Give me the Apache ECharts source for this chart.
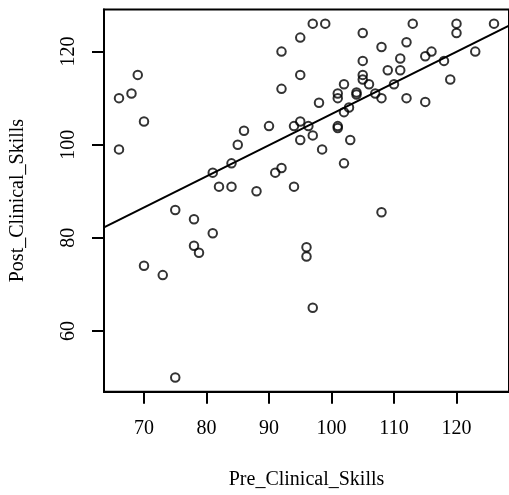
<!DOCTYPE html>
<html>
<head>
<meta charset="utf-8">
<script src="https://cdn.jsdelivr.net/npm/echarts@6/dist/echarts.min.js"></script>
<style>
html,body{margin:0;padding:0;background:#fff;}
#chart{width:509px;height:495px;}
</style>
</head>
<body>
<div id="chart"></div>
<script>
const preClinical = [66,68,69,70,66,75,78,81,78,78.8,70,73,75,81,82,84,84,85,86,88,90,91,92,92,92,94,94,95,95,95,95,96.3,97,99,97,98.5,98,96,96,97,102,103,101,101,102,102.8,101,101,102,104,104,105,105,105,105,106,107,108,108,109,110,111,111,112,112,113,115,116,115,118,119,120,120,123,126,108];
const postClinical = [110,111,115,105,99,86,84,81,78.3,76.8,74,72,50,94,91,91,96,100,103,90,104,94,95,120,112,91,104,123,115,105,101,104,126,126,102,99,109,78,76,65,96,101,104,103.6,107,108,111,110,113,111.2,110.8,124,118,115,114,113,111,121,110,116,113,118.5,116,122,110,126,119,120,109.2,118,114,126,124,120,126,85.5];
const xTicks = [70,80,90,100,110,120];
const yTicks = [60,80,100,120];
const fitIntercept = 39.7;
const fitSlope = 0.669;
const xRange = [63.6, 128.4];
const yRange = [46.96, 129.04];

const points = preClinical.map((x, i) => [x, postClinical[i]]);
const fitLine = xRange.map(x => [x, fitIntercept + fitSlope * x]);

const font = 'Liberation Serif';
const chart = echarts.init(document.getElementById('chart'), null, {renderer: 'canvas'});
chart.setOption({
  animation: false,
  backgroundColor: '#fff',
  grid: {
    show: true, left: 104, top: 9.5, width: 407.6, height: 382.2,
    borderColor: '#000', borderWidth: 2, backgroundColor: 'transparent'
  },
  xAxis: {
    type: 'value', min: xRange[0], max: xRange[1],
    name: 'Pre_Clinical_Skills', nameLocation: 'middle', nameGap: 78,
    nameTextStyle: {fontFamily: font, fontSize: 20, color: '#000'},
    axisLine: {show: true, lineStyle: {color: '#000', width: 2}},
    axisTick: {show: true, length: 12, lineStyle: {color: '#000', width: 2}, customValues: xTicks},
    axisLabel: {fontFamily: font, fontSize: 20, color: '#000', margin: 27, customValues: xTicks},
    splitLine: {show: false}
  },
  yAxis: {
    type: 'value', min: yRange[0], max: yRange[1],
    name: 'Post_Clinical_Skills', nameLocation: 'middle', nameGap: 76, nameRotate: 90,
    nameTextStyle: {fontFamily: font, fontSize: 20, color: '#000'},
    axisLine: {show: true, lineStyle: {color: '#000', width: 2}},
    axisTick: {show: true, length: 12, lineStyle: {color: '#000', width: 2}, customValues: yTicks},
    axisLabel: {fontFamily: font, fontSize: 20, color: '#000', margin: 25, rotate: 90, customValues: yTicks},
    splitLine: {show: false}
  },
  series: [
    {
      type: 'scatter', data: points, symbol: 'circle', symbolSize: 8.5,
      itemStyle: {color: 'transparent', borderColor: '#000', borderWidth: 2},
      emphasis: {disabled: true}
    },
    {
      type: 'line', data: fitLine, showSymbol: false, symbol: 'none',
      lineStyle: {color: '#000', width: 2}, clip: true, emphasis: {disabled: true}
    }
  ]
});
</script>
</body>
</html>
